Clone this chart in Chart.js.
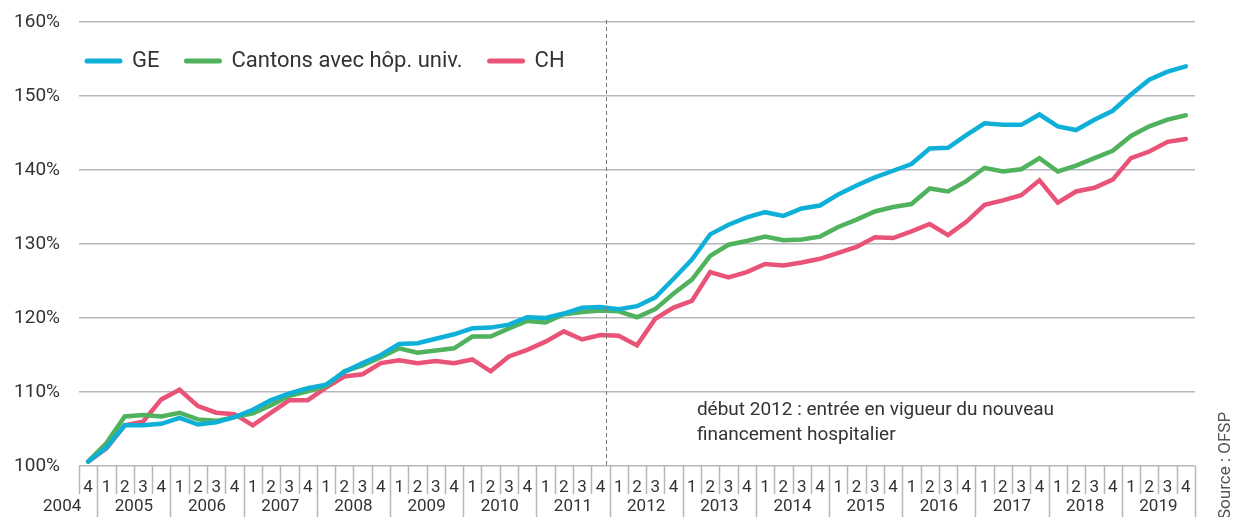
<!DOCTYPE html>
<html>
<head>
<meta charset="utf-8">
<script src="https://cdn.jsdelivr.net/npm/chart.js@4/dist/chart.umd.min.js"></script>
<style>
  body { margin: 0; background: #fff; }
  #wrap { width: 1235px; height: 517px; position: relative; }
</style>
</head>
<body>
<div id="wrap"><canvas id="costChart"></canvas></div>
<script>
// quarters 2004 Q4 .. 2019 Q4
const quarters = [
    '4',
    '1', '2', '3', '4',  // 2005
    '1', '2', '3', '4',  // 2006
    '1', '2', '3', '4',  // 2007
    '1', '2', '3', '4',  // 2008
    '1', '2', '3', '4',  // 2009
    '1', '2', '3', '4',  // 2010
    '1', '2', '3', '4',  // 2011
    '1', '2', '3', '4',  // 2012
    '1', '2', '3', '4',  // 2013
    '1', '2', '3', '4',  // 2014
    '1', '2', '3', '4',  // 2015
    '1', '2', '3', '4',  // 2016
    '1', '2', '3', '4',  // 2017
    '1', '2', '3', '4',  // 2018
    '1', '2', '3', '4'   // 2019
];
const years = ['2004', '2005', '2006', '2007', '2008', '2009', '2010', '2011',
               '2012', '2013', '2014', '2015', '2016', '2017', '2018', '2019'];

const seriesGE = [
    100.6,
    102.5, 105.5, 105.5, 105.7,
    106.5, 105.6, 105.9, 106.6,
    107.6, 108.9, 109.8, 110.5,
    111.0, 112.7, 113.9, 115.0,
    116.5, 116.6, 117.2, 117.8,
    118.6, 118.7, 119.1, 120.1,
    120.0, 120.6, 121.4, 121.5,
    121.2, 121.6, 122.8, 125.3,
    127.9, 131.3, 132.6, 133.6,
    134.3, 133.8, 134.8, 135.2,
    136.7, 137.9, 139.0, 139.9,
    140.8, 142.9, 143.0, 144.7,
    146.3, 146.1, 146.1, 147.5,
    145.9, 145.4, 146.8, 148.0,
    150.2, 152.2, 153.3, 154.0
];
const seriesCantons = [
    100.6,
    103.1, 106.7, 106.9, 106.7,
    107.2, 106.3, 106.1, 106.6,
    107.1, 108.2, 109.5, 110.1,
    110.8, 112.8, 113.6, 114.7,
    115.9, 115.3, 115.6, 115.9,
    117.5, 117.5, 118.6, 119.6,
    119.4, 120.5, 120.8, 121.0,
    120.9, 120.1, 121.2, 123.3,
    125.2, 128.4, 129.9, 130.4,
    131.0, 130.5, 130.6, 131.0,
    132.3, 133.3, 134.4, 135.0,
    135.4, 137.5, 137.1, 138.5,
    140.3, 139.8, 140.1, 141.6,
    139.8, 140.6, 141.6, 142.6,
    144.6, 145.9, 146.8, 147.4
];
const seriesCH = [
    100.6,
    102.4, 105.5, 106.0, 109.0,
    110.3, 108.1, 107.2, 107.0,
    105.5, 107.2, 108.9, 108.9,
    110.6, 112.1, 112.4, 113.9,
    114.3, 113.9, 114.2, 113.9,
    114.4, 112.8, 114.8, 115.7,
    116.8, 118.2, 117.1, 117.7,
    117.6, 116.3, 119.9, 121.4,
    122.3, 126.2, 125.5, 126.2,
    127.3, 127.1, 127.5, 128.0,
    128.8, 129.6, 130.9, 130.8,
    131.7, 132.7, 131.2, 133.0,
    135.3, 135.9, 136.6, 138.6,
    135.6, 137.1, 137.6, 138.7,
    141.6, 142.5, 143.8, 144.2
];
const yTicks = [100, 110, 120, 130, 140, 150, 160];

const reformIndex = 28;  // last quarter before the reform (2011 Q4)
const noteLines = ['début 2012 : entrée en vigueur du nouveau', 'financement hospitalier'];
const sourceText = 'Source : OFSP';

const FONT = 'Roboto, "Liberation Sans", sans-serif';
const TEXT = '#333333';
const GRID = '#b6b6bd';

// legend drawn inside the plot, top left
const innerLegend = {
    id: 'innerLegend',
    afterDraw(chart) {
        const ctx = chart.ctx;
        let px = chart.chartArea.left + 6;
        const py = 61;
        ctx.save();
        ctx.font = '22px ' + FONT;
        ctx.textBaseline = 'middle';
        chart.data.datasets.forEach(ds => {
            ctx.strokeStyle = ds.borderColor;
            ctx.lineWidth = 5;
            ctx.lineCap = 'round';
            ctx.beginPath();
            ctx.moveTo(px + 2, py);
            ctx.lineTo(px + 35, py);
            ctx.stroke();
            ctx.fillStyle = TEXT;
            ctx.fillText(ds.label, px + 47, py);
            px += 47 + ctx.measureText(ds.label).width + 25;
        });
        ctx.restore();
    }
};

// quarter separators, year labels, reform line and notes
const decorations = {
    id: 'decorations',
    afterDraw(chart) {
        const ctx = chart.ctx;
        const x = chart.scales.x;
        const y = chart.scales.y;
        const area = chart.chartArea;
        const step = x.getPixelForValue(1) - x.getPixelForValue(0);

        ctx.save();
        ctx.strokeStyle = GRID;
        ctx.lineWidth = 1.5;
        for (let i = 0; i <= quarters.length; i++) {
            const px = Math.round(x.getPixelForValue(i) - step / 2) + 0.5;
            const isYear = quarters[i] === '1' || i === quarters.length;
            ctx.beginPath();
            ctx.moveTo(px, area.bottom);
            ctx.lineTo(px, isYear ? chart.height : area.bottom + 28);
            ctx.stroke();
        }

        ctx.fillStyle = TEXT;
        ctx.font = '17px ' + FONT;
        ctx.textAlign = 'center';
        ctx.textBaseline = 'middle';
        ctx.fillText(years[0], x.getPixelForValue(0) - 26, 507);
        for (let k = 1; k < years.length; k++) {
            const first = 1 + (k - 1) * 4;
            const cx = (x.getPixelForValue(first) + x.getPixelForValue(first + 3)) / 2;
            ctx.fillText(years[k], cx, 507);
        }

        // dashed line: new hospital financing
        const lx = Math.round(x.getPixelForValue(reformIndex) + step * 0.3) + 0.5;
        ctx.strokeStyle = '#777777';
        ctx.lineWidth = 1;
        ctx.setLineDash([4, 3]);
        ctx.beginPath();
        ctx.moveTo(lx, area.top - 2);
        ctx.lineTo(lx, area.bottom);
        ctx.stroke();
        ctx.setLineDash([]);

        ctx.textAlign = 'left';
        ctx.font = '19px ' + FONT;
        const nx = x.getPixelForValue(33) + 5;
        ctx.fillText(noteLines[0], nx, y.getPixelForValue(107.5));
        ctx.fillText(noteLines[1], nx, y.getPixelForValue(104.1));

        // source, vertical on the right
        ctx.fillStyle = '#555555';
        ctx.font = '17px ' + FONT;
        ctx.translate(1226, chart.height + 2);
        ctx.rotate(-Math.PI / 2);
        ctx.textBaseline = 'middle';
        ctx.fillText(sourceText, 0, 0);
        ctx.restore();
    }
};

document.addEventListener('DOMContentLoaded', function() {
    const ctx = document.getElementById('costChart').getContext('2d');
    new Chart(ctx, {
        type: 'line',
        data: {
            labels: quarters,
            datasets: [{
                label: 'GE',
                data: seriesGE,
                borderColor: '#0fb0d8'
            }, {
                label: 'Cantons avec hôp. univ.',
                data: seriesCantons,
                borderColor: '#50b25c'
            }, {
                label: 'CH',
                data: seriesCH,
                borderColor: '#ea5378'
            }]
        },
        options: {
            responsive: true,
            maintainAspectRatio: false,
            animation: false,
            datasets: {
                line: {
                    borderWidth: 4.5,
                    pointRadius: 0,
                    tension: 0,
                    borderCapStyle: 'round',
                    borderJoinStyle: 'miter',
                    fill: false
                }
            },
            layout: {
                padding: { top: 22, right: 40, bottom: 0, left: 0 }
            },
            plugins: {
                legend: { display: false },
                tooltip: { enabled: false }
            },
            scales: {
                x: {
                    offset: true,
                    grid: { display: false },
                    border: { display: false },
                    ticks: {
                        autoSkip: false,
                        maxRotation: 0,
                        padding: 4,
                        color: TEXT,
                        font: { family: FONT, size: 17 }
                    },
                    afterFit: function(scale) {
                        scale.height = 51;
                        scale.paddingLeft = 0;
                        scale.paddingRight = 0;
                    }
                },
                y: {
                    min: yTicks[0],
                    max: yTicks[yTicks.length - 1],
                    afterBuildTicks: function(scale) {
                        scale.ticks = yTicks.map(v => ({ value: v }));
                    },
                    grid: {
                        color: GRID,
                        lineWidth: 1.5,
                        drawTicks: false
                    },
                    border: { display: false },
                    ticks: {
                        padding: 19,
                        color: TEXT,
                        font: { family: FONT, size: 19 },
                        callback: function(value) { return value + '%'; }
                    },
                    afterFit: function(scale) {
                        scale.width = 79;
                        scale.paddingTop = 0;
                        scale.paddingBottom = 0;
                    }
                }
            }
        },
        plugins: [innerLegend, decorations]
    });
});
</script>
</body>
</html>
